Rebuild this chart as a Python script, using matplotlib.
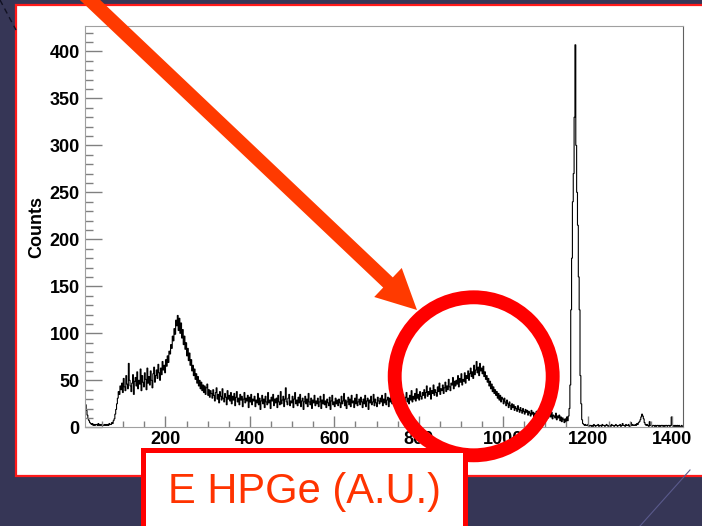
import matplotlib
matplotlib.use("Agg")
import matplotlib.pyplot as plt
import matplotlib.patches as mpatches
from matplotlib.ticker import MultipleLocator
import numpy as np

plt.rcParams["font.family"] = ["Liberation Sans", "DejaVu Sans"]

# HPGe spectrum: 2-unit bins starting at 10 (25 bins per row)
bin_start = 10
bin_width = 2
counts = [
    24, 18, 13, 9, 7, 5, 4, 3, 4, 2, 3, 2, 3, 3, 2, 4, 2, 3, 2, 3, 2, 2, 3, 2, 3,               # 10-60
    2, 3, 2, 4, 3, 3, 5, 4, 7, 9, 14, 19, 25, 31, 38, 35, 44, 40, 47, 37, 52, 43, 39, 55, 46,    # 60-110
    41, 68, 50, 44, 38, 47, 56, 35, 49, 53, 44, 59, 41, 50, 46, 62, 39, 55, 48, 43, 58, 51, 40, 63, 47,  # 110-160
    54, 45, 60, 50, 42, 57, 64, 48, 55, 61, 52, 67, 58, 50, 63, 56, 70, 61, 66, 58, 72, 65, 76, 69, 81,  # 160-210
    78, 88, 84, 97, 92, 105, 99, 114, 108, 119, 103, 116, 100, 111, 95, 104, 88, 97, 83, 90, 76, 84, 71, 79, 66,  # 210-260
    72, 60, 66, 55, 62, 51, 57, 47, 54, 44, 50, 41, 48, 39, 45, 37, 44, 35, 42, 46, 34, 40, 32, 39, 36,  # 260-310
    31, 40, 34, 28, 37, 42, 30, 35, 26, 38, 33, 29, 41, 31, 27, 36, 32, 24, 39, 30, 34, 28, 37, 25, 33,  # 310-360
    29, 36, 23, 32, 38, 27, 31, 24, 35, 29, 33, 22, 30, 37, 26, 31, 28, 34, 21, 32, 27, 35, 24, 30, 28,  # 360-410
    33, 22, 29, 26, 36, 24, 31, 19, 28, 34, 25, 30, 21, 33, 27, 24, 37, 26, 29, 20, 32, 28, 35, 23, 30,  # 410-460
    26, 31, 21, 34, 27, 24, 38, 25, 29, 33, 22, 30, 42, 27, 24, 31, 35, 23, 28, 26, 33, 21, 30, 37, 25,  # 460-510
    29, 23, 32, 26, 35, 22, 28, 31, 19, 27, 33, 25, 30, 22, 36, 27, 24, 31, 20, 29, 26, 34, 23, 28, 25,  # 510-560
    31, 22, 27, 33, 20, 29, 25, 35, 24, 28, 21, 30, 26, 23, 32, 19, 28, 34, 24, 27, 22, 31, 25, 29, 23,  # 560-610
    30, 26, 21, 33, 25, 28, 36, 23, 29, 20, 27, 32, 24, 30, 22, 34, 26, 28, 21, 31, 25, 35, 23, 27, 30,  # 610-660
    24, 32, 27, 21, 30, 25, 34, 22, 28, 31, 19, 29, 26, 33, 24, 27, 35, 23, 30, 26, 22, 32, 28, 25, 31,  # 660-710
    27, 34, 23, 30, 26, 36, 24, 29, 32, 22, 31, 27, 35, 25, 28, 33, 23, 30, 38, 26, 29, 24, 33, 28, 31,  # 710-760
    26, 35, 29, 24, 32, 37, 27, 31, 25, 34, 29, 39, 27, 33, 30, 36, 28, 41, 31, 35, 29, 38, 33, 30, 37,  # 760-810
    34, 40, 31, 37, 44, 33, 38, 35, 42, 30, 39, 36, 45, 34, 40, 37, 33, 43, 38, 47, 35, 41, 39, 45, 36,  # 810-860
    42, 48, 38, 44, 40, 51, 43, 39, 47, 45, 53, 41, 49, 44, 50, 46, 55, 43, 52, 48, 57, 45, 51, 49, 58,  # 860-910
    47, 55, 52, 60, 50, 57, 63, 54, 59, 52, 66, 56, 61, 70, 58, 64, 55, 68, 60, 63, 57, 65, 54, 59, 51,  # 910-960
    55, 48, 52, 44, 49, 41, 46, 38, 43, 36, 40, 34, 38, 31, 36, 29, 34, 27, 32, 30, 25, 31, 27, 23, 29,  # 960-1010
    25, 21, 27, 23, 19, 25, 21, 24, 18, 22, 20, 17, 23, 19, 16, 21, 18, 15, 20, 17, 14, 19, 16, 18, 13,  # 1010-1060
    17, 15, 12, 18, 14, 16, 11, 15, 13, 17, 12, 14, 10, 16, 13, 11, 15, 12, 14, 9, 13, 11, 15, 10, 12,  # 1060-1110
    14, 11, 16, 9, 13, 12, 10, 15, 8, 12, 10, 13, 7, 11, 6, 10, 8, 5, 9, 6, 11, 7, 12, 20, 45,  # 1110-1160
    125, 180, 240, 270, 330, 407, 300, 250, 215, 160, 125, 55, 25, 8, 4, 3, 2, 3, 2, 2, 3, 1, 2, 2, 1,  # 1160-1210
    2, 1, 3, 2, 1, 2, 2, 3, 1, 2, 2, 1, 3, 2, 2, 1, 2, 3, 2, 1, 2, 2, 1, 3, 2,  # 1210-1260
    2, 1, 2, 3, 2, 1, 2, 2, 3, 1, 2, 4, 2, 2, 1, 3, 2, 2, 3, 1, 2, 5, 2, 3, 2,  # 1260-1310
    2, 3, 2, 4, 3, 5, 6, 8, 11, 14, 12, 9, 5, 3, 2, 3, 2, 1, 6, 2, 2, 1, 2, 2, 1,  # 1310-1360
    2, 1, 2, 2, 1, 2, 1, 2, 2, 1, 2, 1, 2, 2, 1, 2, 2, 1, 2, 11, 2, 1, 2, 1, 2,  # 1360-1410
    1, 2, 1, 2, 1, 1, 2, 1,  # 1410-1426
]
x_range = (10, 1426)
y_range = (0, 427)
x_major = [200, 400, 600, 800, 1000, 1200, 1400]
y_major = [0, 50, 100, 150, 200, 250, 300, 350, 400]
y_title = "Counts"
x_title = "E HPGe (A.U.)"

edges = bin_start + bin_width * np.arange(len(counts) + 1)

W, H = 702, 526
fig = plt.figure(figsize=(W / 100, H / 100), dpi=100)
fig.patch.set_facecolor("#363656")

# slide background + white panel
bg = fig.add_axes([0, 0, 1, 1], zorder=0)
bg.set_xlim(0, W)
bg.set_ylim(H, 0)
bg.axis("off")
bg.plot([0, 16], [0, 30], color="#111122", lw=1, ls=(0, (4, 3)))
bg.plot([640, 690], [526, 470], color="#5a5a8c", lw=0.8)
bg.add_patch(mpatches.Rectangle((16, 5), 720, 471, facecolor="white",
                                edgecolor="#ff1a1a", lw=1.6))

# histogram
ax = fig.add_axes([85.3 / W, 1 - 427.3 / H, (683 - 85.3) / W, (427.3 - 26) / H], zorder=1)
ax.stairs(counts, edges, color="black", lw=0.8, baseline=None)
ax.set_xlim(*x_range)
ax.set_ylim(*y_range)
ax.set_xticks(x_major)
ax.set_yticks(y_major)
ax.xaxis.set_minor_locator(MultipleLocator(50))
ax.yaxis.set_minor_locator(MultipleLocator(10))
ax.tick_params(axis="both", which="both", direction="in", color="#808080", width=1.0,
               labelsize=13, top=False, right=False)
ax.tick_params(axis="y", which="major", length=12, pad=4)
ax.tick_params(axis="y", which="minor", length=6)
ax.tick_params(axis="x", which="major", length=8, pad=2.5)
ax.tick_params(axis="x", which="minor", length=4.3)
for lab in ax.get_xticklabels() + ax.get_yticklabels():
    lab.set_fontweight("bold")
for side in ["left", "bottom", "top"]:
    ax.spines[side].set_color("#a0a0a0")
ax.spines["right"].set_color("#606060")
ax.set_ylabel(y_title, fontsize=13, fontweight="bold", labelpad=3)

# overlay: arrow, circle, axis title box
ov = fig.add_axes([0, 0, 1, 1], zorder=2)
ov.set_xlim(0, W)
ov.set_ylim(H, 0)
ov.axis("off")
ov.add_patch(mpatches.FancyArrow(79.5, -10, 417 - 79.5, 320, width=14, head_width=40,
                                 head_length=40, length_includes_head=True,
                                 color="#ff3a00", lw=0))
ov.add_patch(mpatches.Circle((473.7, 376.3), 79, fill=False, edgecolor="#ff0000", lw=10))
ov.add_patch(mpatches.Rectangle((142.5, 449.5), 322, 90, facecolor="white",
                                edgecolor="#ff0000", lw=3.6))
ov.text(304, 503, x_title, ha="center", va="baseline", fontsize=30, color="#ff3300")

fig.savefig("out.png", dpi=100)
